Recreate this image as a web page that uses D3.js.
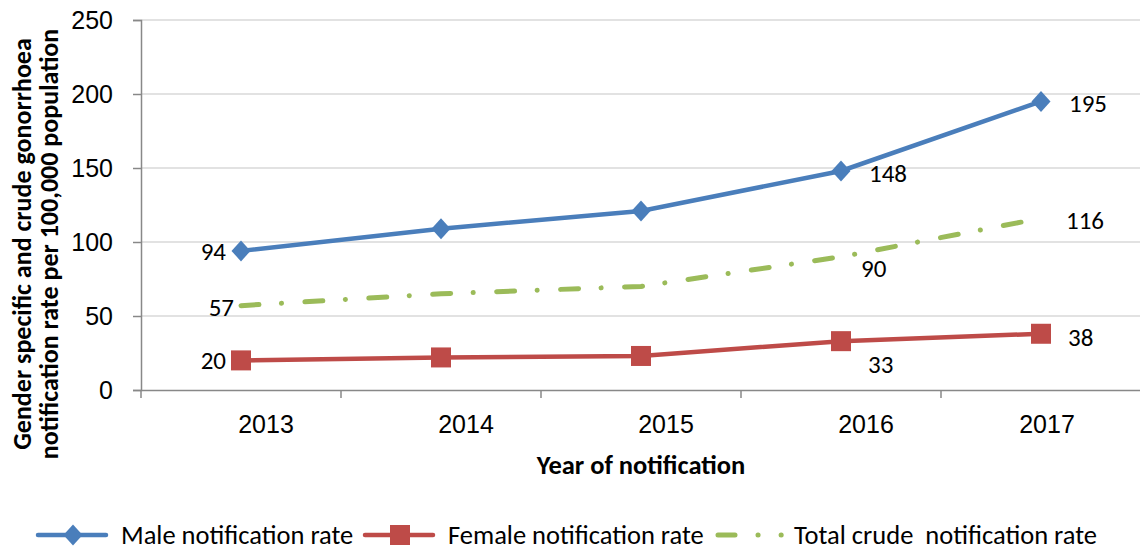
<!DOCTYPE html>
<html>
<head>
<meta charset="utf-8">
<script src="https://cdn.jsdelivr.net/npm/d3@7"></script>
<style>
    body { margin: 0; background: #fff; }
    svg { font-family: Carlito, Calibri, Lato, sans-serif; }
</style>
</head>
<body>
<svg id="chart" width="1140" height="552"></svg>
<script>
// Data
var years = ["2013", "2014", "2015", "2016", "2017"];
var male = [94, 109, 121, 148, 195];
var female = [20, 22, 23, 33, 38];
var total = [57, 65, 70, 90, 116];
var yTicks = [0, 50, 100, 150, 200, 250];

var svg = d3.select("#chart");
var plotLeft = 141, plotRight = 1141, plotTop = 20, plotBottom = 390;

var x = d3.scaleBand().domain(years).range([plotLeft, plotRight]);
var y = d3.scaleLinear().domain([0, 250]).range([plotBottom, plotTop]);
var cx = function (d, i) { return x(years[i]) + x.bandwidth() / 2; };

// Grid lines
svg.append("g")
    .selectAll("line")
    .data(yTicks.slice(1))
    .enter()
    .append("line")
    .attr("x1", plotLeft).attr("x2", plotRight)
    .attr("y1", function (d) { return y(d); })
    .attr("y2", function (d) { return y(d); })
    .attr("stroke", "#d9d9d9")
    .attr("stroke-width", 1.5);

// Y axis
var yAxis = svg.append("g")
    .attr("transform", "translate(" + plotLeft + ",0)")
    .call(d3.axisLeft(y).tickValues(yTicks).tickSize(8).tickPadding(20));
yAxis.selectAll("text").attr("font-size", 25).attr("fill", "#000");

// X axis
var xAxis = svg.append("g")
    .attr("transform", "translate(0," + plotBottom + ")")
    .call(d3.axisBottom(x).tickSize(0).tickFormat(""));
xAxis.selectAll("line.tk")
    .data(d3.range(years.length + 1))
    .enter()
    .append("line")
    .attr("class", "tk")
    .attr("x1", function (d) { return plotLeft + d * x.bandwidth(); })
    .attr("x2", function (d) { return plotLeft + d * x.bandwidth(); })
    .attr("y1", 0).attr("y2", 8)
    .attr("stroke", "#888")
    .attr("stroke-width", 1.5);
xAxis.selectAll("text.lbl")
    .data(years)
    .enter()
    .append("text")
    .attr("class", "lbl")
    .attr("x", function (d, i) { return Math.min(cx(d, i) + 25, 1047); })
    .attr("y", 43)
    .attr("text-anchor", "middle")
    .attr("font-size", 25)
    .attr("fill", "#000")
    .text(function (d) { return d; });

svg.selectAll(".domain, .tick line").attr("stroke", "#888").attr("stroke-width", 1.5);

// Axis titles
svg.append("text")
    .attr("x", 641).attr("y", 474)
    .attr("text-anchor", "middle")
    .attr("font-size", 26.5)
    .attr("font-weight", "bold")
    .text("Year of notification");

var yTitle = svg.append("text")
    .attr("transform", "translate(0,244) rotate(-90)")
    .attr("text-anchor", "middle")
    .attr("font-size", 26)
    .attr("font-weight", "bold");
yTitle.append("tspan").attr("x", 0).attr("y", 31).text("Gender specific and crude gonorrhoea");
yTitle.append("tspan").attr("x", 0).attr("y", 58).text("notification rate per 100,000 population");

// Series
var series = [
    { name: "Male notification rate", values: male, color: "#4a7ebb", dash: null, marker: "diamond" },
    { name: "Female notification rate", values: female, color: "#be4b48", dash: null, marker: "square" },
    { name: "Total crude  notification rate", values: total, color: "#9bbb59", dash: "18 22.5 0.1 23.4", marker: null }
];

var line = d3.line()
    .x(function (d, i) { return cx(d, i); })
    .y(function (d) { return y(d); });

function Marker(g, type, color, px, py) {
    if (type == "diamond") {
        g.append("path")
            .attr("d", "M" + px + "," + (py - 10.5) + "L" + (px + 9.5) + "," + py + "L" + px + "," + (py + 10.5) + "L" + (px - 9.5) + "," + py + "Z")
            .attr("fill", color);
    } else if (type == "square") {
        g.append("rect")
            .attr("x", px - 10).attr("y", py - 10)
            .attr("width", 20).attr("height", 20)
            .attr("fill", color);
    }
}

series.forEach(function (s) {
    var g = svg.append("g");
    g.append("path")
        .datum(s.values)
        .attr("d", line)
        .attr("fill", "none")
        .attr("stroke", s.color)
        .attr("stroke-width", s.dash ? 5 : 4.5)
        .attr("stroke-linecap", s.dash ? "round" : "butt")
        .attr("stroke-dasharray", s.dash);
    s.values.forEach(function (d, i) {
        Marker(g, s.marker, s.color, cx(d, i), y(d));
    });
});

// Data labels: [series index, point index, dx, dy, anchor]
var labels = [
    [0, 0, -15, 0, "end"], [0, 3, 28, 2, "start"], [0, 4, 28, 2, "start"],
    [1, 0, -15, 0, "end"], [1, 3, 27, 23, "start"], [1, 4, 27, 3, "start"],
    [2, 0, -7, 2, "end"], [2, 3, 20, 11, "start"], [2, 4, 25, 2, "start"]
];
svg.append("g")
    .selectAll("text")
    .data(labels)
    .enter()
    .append("text")
    .attr("x", function (d) { return cx(null, d[1]) + d[2]; })
    .attr("y", function (d) { return y(series[d[0]].values[d[1]]) + d[3]; })
    .attr("dy", "0.35em")
    .attr("text-anchor", function (d) { return d[4]; })
    .attr("font-size", 25)
    .text(function (d) { return series[d[0]].values[d[1]]; });

// Legend
var legendX = [38, 365, 718];
var legend = svg.append("g");
series.forEach(function (s, i) {
    var lx = legendX[i], ly = 535;
    legend.append("line")
        .attr("x1", lx).attr("x2", lx + 68)
        .attr("y1", ly).attr("y2", ly)
        .attr("stroke", s.color)
        .attr("stroke-width", s.dash ? 5 : 4.5)
        .attr("stroke-linecap", "round")
        .attr("stroke-dasharray", s.dash ? "17 23 0.1 23 0.1 100" : null);
    Marker(legend, s.marker, s.color, lx + 35, ly);
    legend.append("text")
        .attr("x", lx + (s.dash ? 76 : 83)).attr("y", ly)
        .attr("dy", "0.35em")
        .attr("font-size", 26.5)
        .style("white-space", "pre")
        .attr("xml:space", "preserve")
        .text(s.name);
});
</script>
</body>
</html>
